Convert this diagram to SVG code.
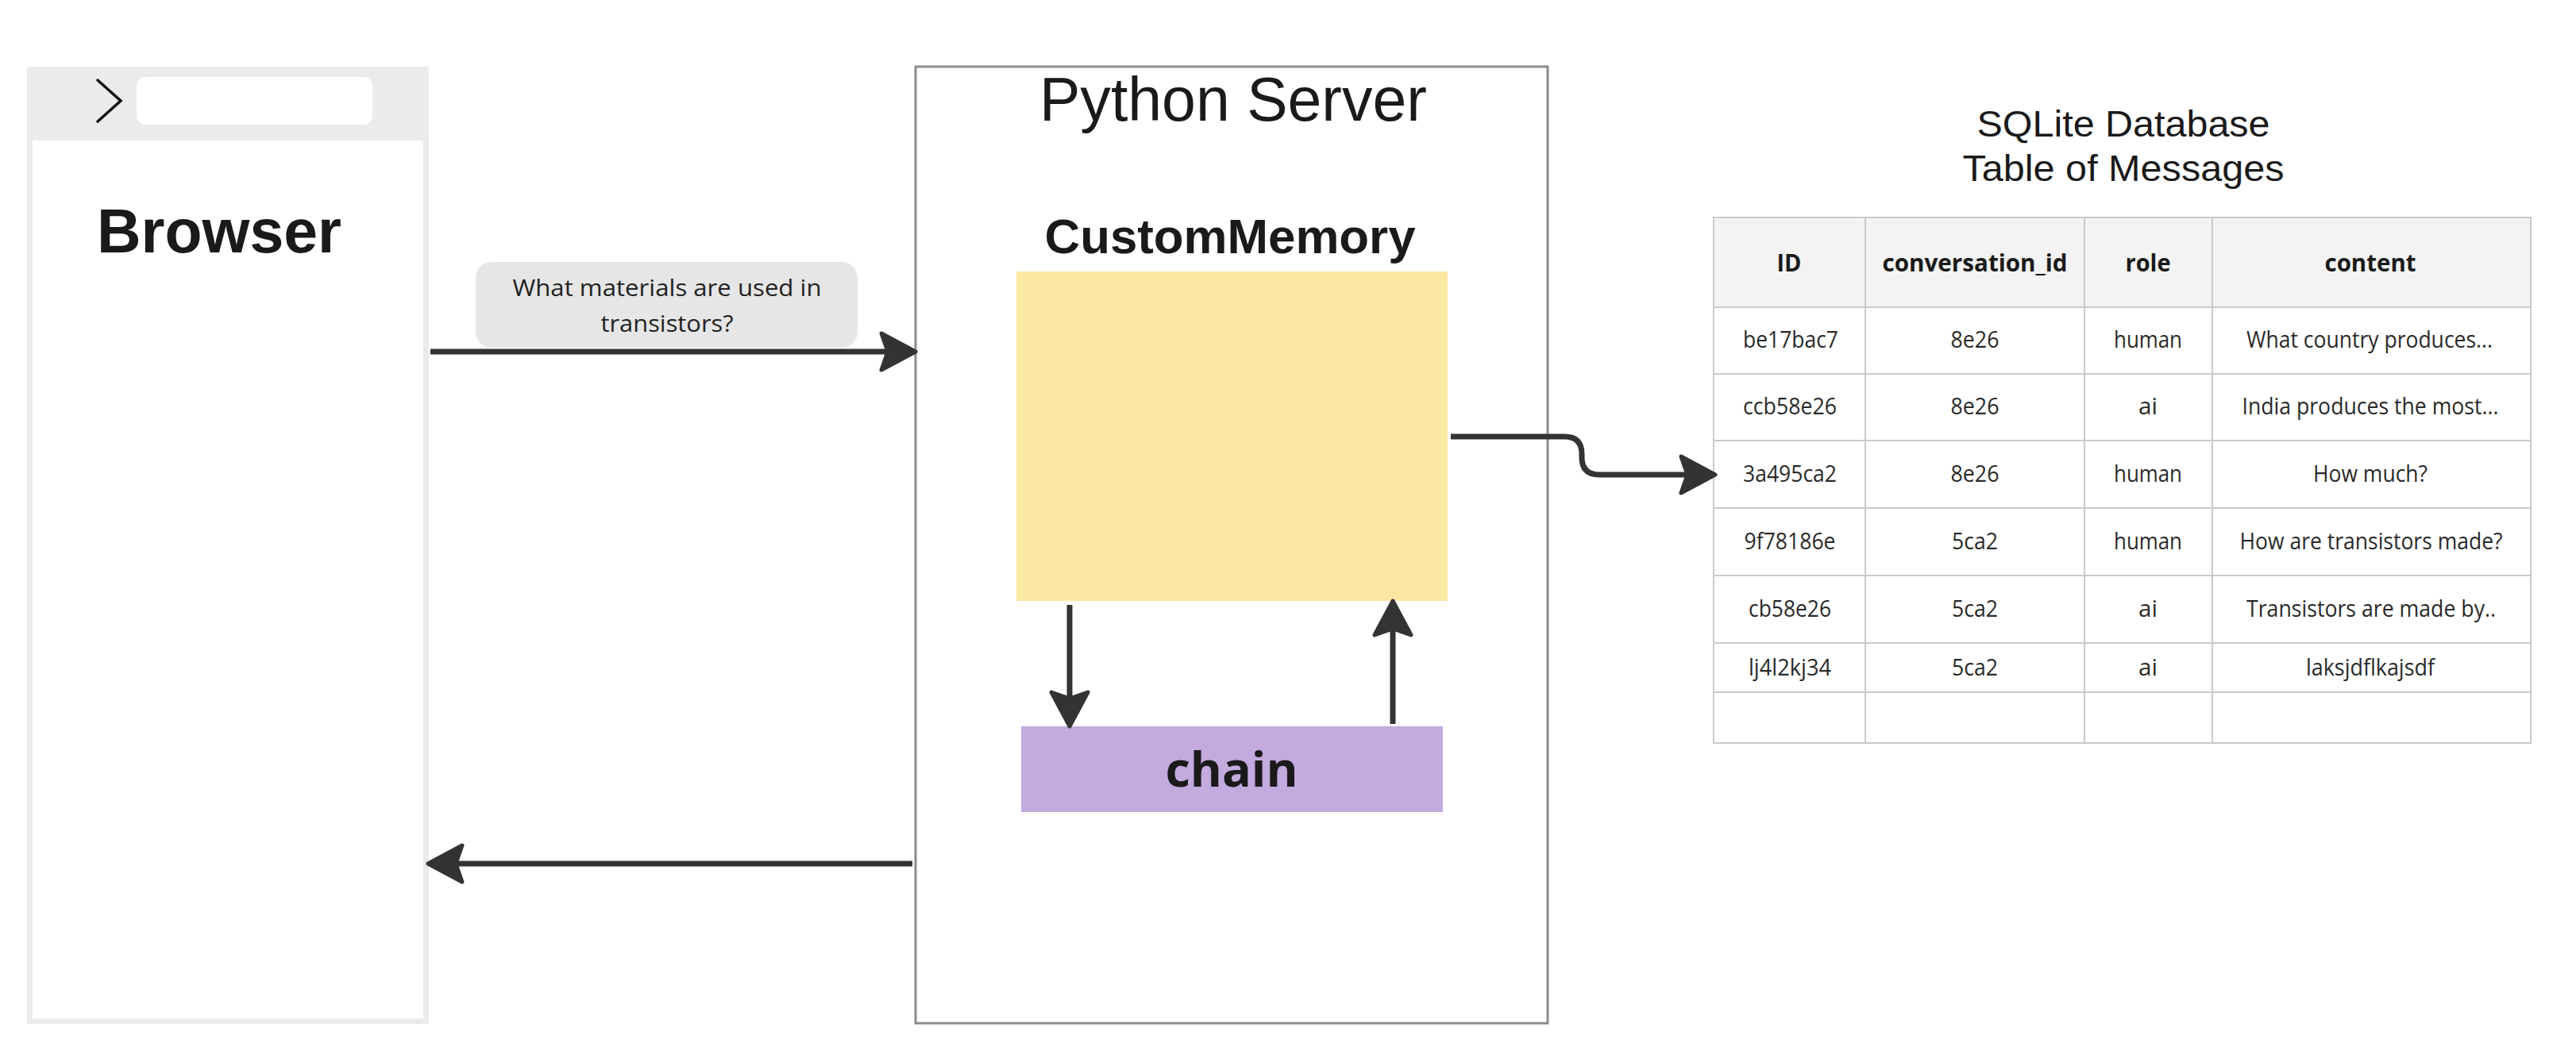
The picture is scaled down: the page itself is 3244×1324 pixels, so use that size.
<svg xmlns="http://www.w3.org/2000/svg" width="3244" height="1324" viewBox="0 0 3244 1324">
<style>
.title{font-family:"Liberation Sans",Arial,sans-serif;fill:#1a1a1a}
.bold{font-family:"Liberation Sans",Arial,sans-serif;font-weight:bold;fill:#1a1a1a}
.os{font-family:"Open Sans","Noto Sans",sans-serif;fill:#222}
.osb{font-family:"Open Sans","Noto Sans",sans-serif;font-weight:bold;fill:#1a1a1a}
.cell{font-family:"Open Sans","Noto Sans",sans-serif;font-size:30px;fill:#2a2a2a;text-anchor:middle}
.hcell{font-family:"Open Sans","Noto Sans",sans-serif;font-size:31px;font-weight:bold;fill:#1a1a1a;text-anchor:middle}
.conn{fill:none;stroke:#333;stroke-width:7}
.grid{stroke:#cacaca;stroke-width:2;fill:none}
</style>
<defs>
<marker id="ah" markerUnits="userSpaceOnUse" markerWidth="80" markerHeight="80" viewBox="-20 -40 80 80" refX="0" refY="0" orient="auto">
<path d="M36,0 L-7,-23 L1,0 L-7,23 Z" fill="#333" stroke="#333" stroke-width="5" stroke-linejoin="round"/>
</marker>
</defs>
<rect width="3244" height="1324" fill="#ffffff"/>

<g id="browser">
<rect x="34" y="84" width="506" height="1206" fill="#ebebeb"/>
<rect x="41" y="177" width="492" height="1106" fill="#ffffff"/>
<path d="M123,101 L152,127 L123,153" fill="none" stroke="#111" stroke-width="3.5" stroke-linecap="round" stroke-linejoin="miter"/>
<rect x="172" y="97" width="297" height="60" rx="11" fill="#ffffff"/>
<text class="bold" x="122" y="318" font-size="77" textLength="308" lengthAdjust="spacingAndGlyphs">Browser</text>
</g>

<g id="python-server">
<rect x="1153" y="84" width="796" height="1205" fill="#ffffff" stroke="#8c8c8c" stroke-width="3"/>
<text class="title" x="1553" y="152" font-size="77" text-anchor="middle" textLength="488" lengthAdjust="spacingAndGlyphs">Python Server</text>
</g>

<g id="custom-memory">
<text class="bold" x="1549" y="319" font-size="62" text-anchor="middle" textLength="467" lengthAdjust="spacingAndGlyphs">CustomMemory</text>
<rect x="1280" y="342" width="543" height="415" fill="#fbe8a3"/>
</g>

<g id="chain">
<rect x="1286" y="915" width="531" height="108" fill="#c3aadf"/>
<text class="osb" x="1551" y="991" font-size="61" text-anchor="middle">chain</text>
</g>

<g id="message-label">
<rect x="599" y="330" width="481" height="108" rx="20" fill="#e6e6e6"/>
<text class="os" x="840" y="373" font-size="29" text-anchor="middle" textLength="389" lengthAdjust="spacingAndGlyphs">What materials are used in</text>
<text class="os" x="840" y="418" font-size="29" text-anchor="middle" textLength="167" lengthAdjust="spacingAndGlyphs">transistors?</text>
</g>

<g id="sqlite-db">
<text class="title" x="2674" y="172" font-size="46" text-anchor="middle" textLength="369" lengthAdjust="spacingAndGlyphs">SQLite Database</text>
<text class="title" x="2674" y="228" font-size="46" text-anchor="middle" textLength="405" lengthAdjust="spacingAndGlyphs">Table of Messages</text>
<rect x="2158" y="274" width="1029" height="113" fill="#f3f3f3"/>
<rect x="2158" y="274" width="1029" height="662" class="grid"/>
<path class="grid" d="M2349,274 V936 M2625,274 V936 M2786,274 V936 M2158,387 H3187 M2158,471 H3187 M2158,555 H3187 M2158,640 H3187 M2158,725 H3187 M2158,810 H3187 M2158,872 H3187"/>
<g lengthAdjust="spacingAndGlyphs">
<text class="hcell" x="2253" y="342" textLength="31" lengthAdjust="spacingAndGlyphs">ID</text>
<text class="hcell" x="2487" y="342" textLength="233" lengthAdjust="spacingAndGlyphs">conversation_id</text>
<text class="hcell" x="2705" y="342" textLength="57" lengthAdjust="spacingAndGlyphs">role</text>
<text class="hcell" x="2985" y="342" textLength="115" lengthAdjust="spacingAndGlyphs">content</text>
</g>

<text class="cell" x="2255" y="438" textLength="120" lengthAdjust="spacingAndGlyphs">be17bac7</text>
<text class="cell" x="2487" y="438" textLength="61" lengthAdjust="spacingAndGlyphs">8e26</text>
<text class="cell" x="2705" y="438" textLength="86" lengthAdjust="spacingAndGlyphs">human</text>
<text class="cell" x="2984" y="438" textLength="310" lengthAdjust="spacingAndGlyphs">What country produces...</text>

<text class="cell" x="2254" y="522" textLength="118" lengthAdjust="spacingAndGlyphs">ccb58e26</text>
<text class="cell" x="2487" y="522" textLength="61" lengthAdjust="spacingAndGlyphs">8e26</text>
<text class="cell" x="2705" y="522" textLength="24" lengthAdjust="spacingAndGlyphs">ai</text>
<text class="cell" x="2985" y="522" textLength="323" lengthAdjust="spacingAndGlyphs">India produces the most...</text>

<text class="cell" x="2254" y="607" textLength="118" lengthAdjust="spacingAndGlyphs">3a495ca2</text>
<text class="cell" x="2487" y="607" textLength="61" lengthAdjust="spacingAndGlyphs">8e26</text>
<text class="cell" x="2705" y="607" textLength="86" lengthAdjust="spacingAndGlyphs">human</text>
<text class="cell" x="2985" y="607" textLength="144" lengthAdjust="spacingAndGlyphs">How much?</text>

<text class="cell" x="2254" y="692" textLength="115" lengthAdjust="spacingAndGlyphs">9f78186e</text>
<text class="cell" x="2487" y="692" textLength="58" lengthAdjust="spacingAndGlyphs">5ca2</text>
<text class="cell" x="2705" y="692" textLength="86" lengthAdjust="spacingAndGlyphs">human</text>
<text class="cell" x="2986" y="692" textLength="331" lengthAdjust="spacingAndGlyphs">How are transistors made?</text>

<text class="cell" x="2254" y="777" textLength="104" lengthAdjust="spacingAndGlyphs">cb58e26</text>
<text class="cell" x="2487" y="777" textLength="58" lengthAdjust="spacingAndGlyphs">5ca2</text>
<text class="cell" x="2705" y="777" textLength="24" lengthAdjust="spacingAndGlyphs">ai</text>
<text class="cell" x="2986" y="777" textLength="314" lengthAdjust="spacingAndGlyphs">Transistors are made by..</text>

<text class="cell" x="2254" y="851" textLength="104" lengthAdjust="spacingAndGlyphs">lj4l2kj34</text>
<text class="cell" x="2487" y="851" textLength="58" lengthAdjust="spacingAndGlyphs">5ca2</text>
<text class="cell" x="2705" y="851" textLength="24" lengthAdjust="spacingAndGlyphs">ai</text>
<text class="cell" x="2985" y="851" textLength="162" lengthAdjust="spacingAndGlyphs">laksjdflkajsdf</text>
</g>

<g id="connectors">
<path class="conn" d="M542,443 H1117" marker-end="url(#ah)"/>
<path class="conn" d="M1347,762 V879" marker-end="url(#ah)"/>
<path class="conn" d="M1754,912 V793" marker-end="url(#ah)"/>
<path class="conn" d="M1827,550 H1970 Q1992,550 1992,572 V576 Q1992,598 2014,598 H2124" marker-end="url(#ah)"/>
<path class="conn" d="M1149,1088 H575" marker-end="url(#ah)"/>
</g>
</svg>
